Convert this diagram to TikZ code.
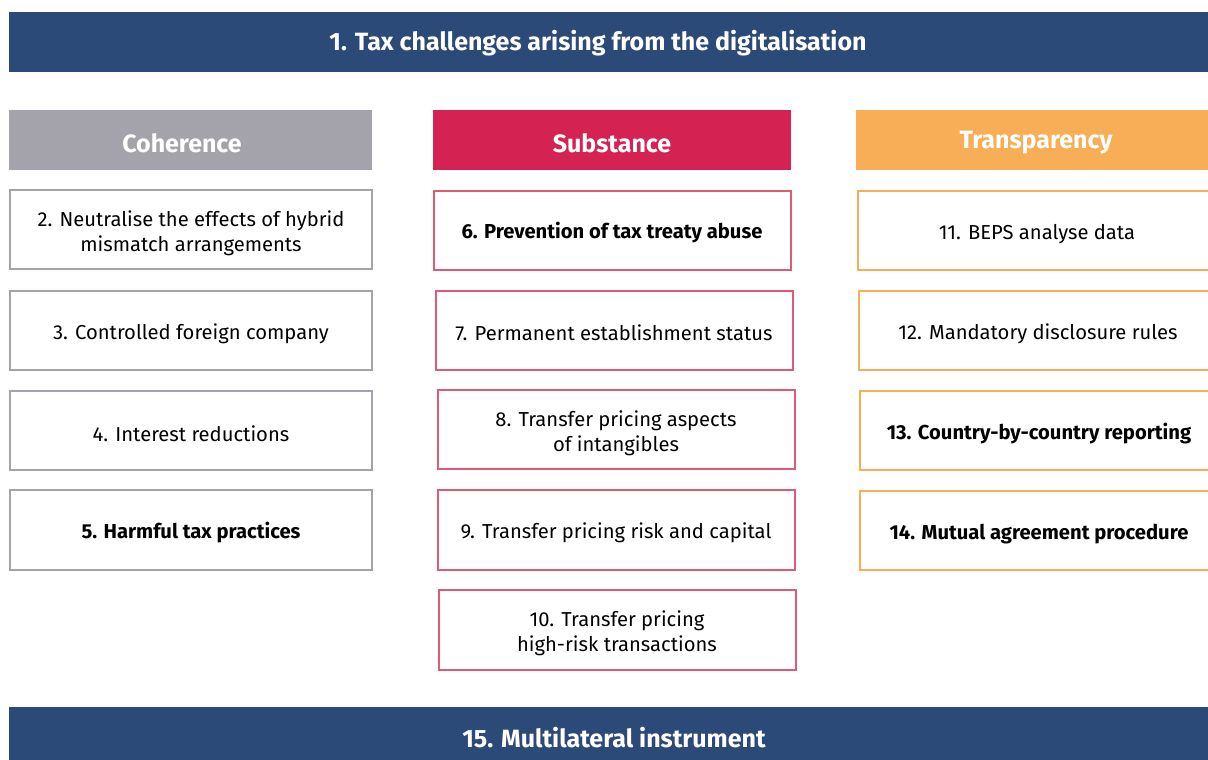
\documentclass[tikz,border=0pt]{standalone}
\usepackage{fontspec}
\setmainfont{Fira Sans}
\definecolor{navy}{HTML}{2B4A78}
\definecolor{cgray}{HTML}{A4A3AB}
\definecolor{cred}{HTML}{D42253}
\definecolor{credl}{HTML}{E05A75}
\definecolor{corange}{HTML}{F7AE57}
\newcommand{\itemfont}{\fontsize{20.2}{25}\selectfont}
\newcommand{\headfont}{\fontsize{25}{28}\selectfont\bfseries}
\begin{document}
\begin{tikzpicture}[x=1pt,y=-1pt,
  bar/.style={text=white,font=\headfont},
  itxt/.style={align=center,font=\itemfont},
  btxt/.style={align=center,font=\itemfont\bfseries},
  cbox/.style={cgray,line width=2pt},
  sbox/.style={credl,line width=2pt},
  tbox/.style={corange,line width=2pt}]
\useasboundingbox (0,0) rectangle (1208,760);
\clip (0,0) rectangle (1208,760);
\fill[white] (0,0) rectangle (1208,760);
% bars
\fill[navy] (9,12) rectangle (1220,72);
\node[bar] (top) at (598,43) {1. Tax challenges arising from the digitalisation};
\fill[navy] (9,707) rectangle (1220,770);
\node[bar] (bottom) at (614,738) {15. Multilateral instrument};
% headers
\fill[cgray] (9,110) rectangle (372,170);
\node[bar] (hcoh) at (182,143) {Coherence};
\fill[cred] (433,110) rectangle (791,170);
\node[bar] (hsub) at (612,143) {Substance};
\fill[corange] (856,110) rectangle (1220,170);
\node[bar] (htra) at (1036,143) {Transparency};
% coherence
\draw[cbox] (10,190) rectangle (372,269);
\node[itxt] (c2) at (191,233) {2. Neutralise the effects of hybrid\\mismatch arrangements};
\draw[cbox] (10,291) rectangle (372,370);
\node[itxt] (c3) at (191,334) {3. Controlled foreign company};
\draw[cbox] (10,391) rectangle (372,470);
\node[itxt] (c4) at (191,434) {4. Interest reductions};
\draw[cbox] (10,490) rectangle (372,570);
\node[btxt] (c5) at (191,533) {5. Harmful tax practices};
% substance
\draw[sbox] (434,191) rectangle (791,270);
\node[btxt] (s6) at (612,233) {6. Prevention of tax treaty abuse};
\draw[sbox] (436,291) rectangle (793,370);
\node[itxt] (s7) at (614,333) {7. Permanent establishment status};
\draw[sbox] (438,390) rectangle (795,469);
\node[itxt] (s8) at (616,433) {8. Transfer pricing aspects\\of intangibles};
\draw[sbox] (438,490) rectangle (795,570);
\node[itxt] (s9) at (616,533) {9. Transfer pricing risk and capital};
\draw[sbox] (439,590) rectangle (796,670);
\node[itxt] (s10) at (617,633) {10. Transfer pricing\\high-risk transactions};
% transparency
\draw[tbox] (858,191) rectangle (1220,270);
\node[itxt] (t11) at (1037,234) {11. BEPS analyse data};
\draw[tbox] (859,291) rectangle (1220,370);
\node[itxt] (t12) at (1038,334) {12. Mandatory disclosure rules};
\draw[tbox] (860,391) rectangle (1220,470);
\node[btxt] (t13) at (1039,434) {13. Country-by-country reporting};
\draw[tbox] (860,491) rectangle (1220,570);
\node[btxt] (t14) at (1039,534) {14. Mutual agreement procedure};
\end{tikzpicture}
\end{document}
